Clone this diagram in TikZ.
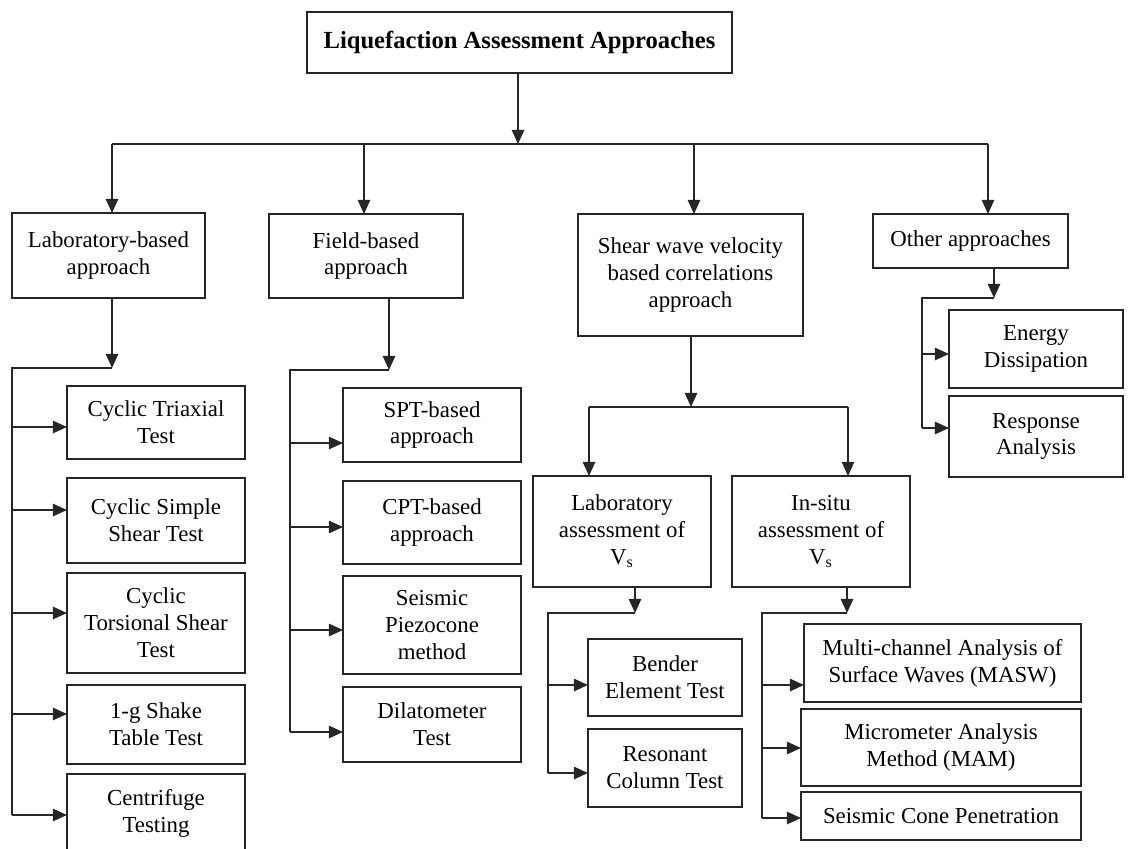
\documentclass[tikz,border=0pt]{standalone}
\usepackage{fontspec}
\setmainfont{Liberation Serif}
\usetikzlibrary{arrows.meta}
\newcommand{\bx}[6]{\node[box, minimum width={(#4-#2)*0.02cm}, minimum height={(#5-#3)*0.02cm}] (#1) at ({(#2+#4)/2},{(#3+#5)/2}) {#6};}
\begin{document}
\begin{tikzpicture}[x=0.02cm,y=-0.02cm,
  box/.style={draw=black!85, line width=1pt, inner sep=0pt, outer sep=0pt, align=center, font=\fontsize{13}{15.3}\selectfont},
  conn/.style={draw=black!85, line width=1pt},
  arr/.style={conn, -{Triangle[length=8pt,width=7pt]}}]
\useasboundingbox (0,0) rectangle (1128,848);
\clip (0,0) rectangle (1128,848);
% boxes
\bx{title}{307}{12}{732}{73}{\raisebox{3pt}{\fontsize{14}{16}\selectfont\bfseries Liquefaction Assessment Approaches}}
\bx{lab}{12}{213}{205}{298}{Laboratory-based\\approach}
\bx{field}{269}{214}{463}{298}{Field-based\\approach}
\bx{shear}{578}{214}{803}{336}{Shear wave velocity\\based correlations\\approach}
\bx{other}{873}{214}{1068}{268}{Other approaches}
\bx{c1}{67}{386}{245}{459}{Cyclic Triaxial\\Test}
\bx{c2}{67}{478}{245}{563}{Cyclic Simple\\Shear Test}
\bx{c3}{67}{573}{245}{673}{Cyclic\\Torsional Shear\\Test}
\bx{c4}{67}{685}{245}{764}{1-g Shake\\Table Test}
\bx{c5}{67}{774}{245}{852}{Centrifuge\\Testing}
\bx{f1}{343}{388}{521}{462}{SPT-based\\approach}
\bx{f2}{343}{481}{521}{564}{CPT-based\\approach}
\bx{f3}{343}{576}{521}{674}{Seismic\\Piezocone\\method}
\bx{f4}{343}{687}{521}{762}{Dilatometer\\Test}
\bx{la}{533}{476}{711}{587}{Laboratory\\assessment of\\V\textsubscript{s}}
\bx{ia}{732}{476}{910}{587}{In-situ\\assessment of\\V\textsubscript{s}}
\bx{b1}{588}{639}{742}{716}{Bender\\Element Test}
\bx{b2}{588}{729}{742}{807}{Resonant\\Column Test}
\bx{m1}{804}{624}{1081}{702}{Multi-channel Analysis of\\Surface Waves (MASW)}
\bx{m2}{801}{709}{1081}{786}{Micrometer Analysis\\Method (MAM)}
\bx{m3}{801}{792}{1081}{840}{Seismic Cone Penetration}
\bx{o1}{949}{310}{1123}{388}{Energy\\Dissipation}
\bx{o2}{949}{396}{1123}{477}{Response\\Analysis}
% top level
\coordinate (h0) at (518,144);
\coordinate (h1) at (112,144);
\coordinate (h2) at (364,144);
\coordinate (h3) at (694,144);
\coordinate (h4) at (988,144);
\draw[arr] (title.south -| h0) -- (h0);
\draw[conn] (h1) -- (h4);
\draw[arr] (h1) -- (h1 |- lab.north);
\draw[arr] (h2) -- (h2 |- field.north);
\draw[arr] (h3) -- (h3 |- shear.north);
\draw[arr] (h4) -- (h4 |- other.north);
% laboratory-based
\coordinate (l1) at (112,368);
\coordinate (l0) at (12,368);
\draw[arr] (l1 |- lab.south) -- (l1);
\draw[conn] (l1) -- (l0) -- (l0 |- 0,815);
\draw[arr] (l0 |- 0,427) -- (c1.west |- 0,427);
\draw[arr] (l0 |- 0,510) -- (c2.west |- 0,510);
\draw[arr] (l0 |- 0,613) -- (c3.west |- 0,613);
\draw[arr] (l0 |- 0,714) -- (c4.west |- 0,714);
\draw[arr] (l0 |- 0,815) -- (c5.west |- 0,815);
% field-based
\coordinate (g1) at (389,370);
\coordinate (g0) at (290,370);
\draw[arr] (g1 |- field.south) -- (g1);
\draw[conn] (g1) -- (g0) -- (g0 |- 0,732);
\draw[arr] (g0 |- 0,443) -- (f1.west |- 0,443);
\draw[arr] (g0 |- 0,527) -- (f2.west |- 0,527);
\draw[arr] (g0 |- 0,630) -- (f3.west |- 0,630);
\draw[arr] (g0 |- 0,732) -- (f4.west |- 0,732);
% shear wave
\coordinate (s1) at (691,407);
\coordinate (s0) at (589,407);
\coordinate (s2) at (848,407);
\draw[arr] (s1 |- shear.south) -- (s1);
\draw[conn] (s0) -- (s2);
\draw[arr] (s0) -- (s0 |- la.north);
\draw[arr] (s2) -- (s2 |- ia.north);
% lab assessment
\coordinate (a1) at (635,613);
\coordinate (a0) at (548,613);
\draw[arr] (a1 |- la.south) -- (a1);
\draw[conn] (a1) -- (a0) -- (a0 |- 0,773);
\draw[arr] (a0 |- 0,685) -- (b1.west |- 0,685);
\draw[arr] (a0 |- 0,773) -- (b2.west |- 0,773);
% in-situ
\coordinate (i1) at (847,613);
\coordinate (i0) at (762,613);
\draw[arr] (i1 |- ia.south) -- (i1);
\draw[conn] (i1) -- (i0) -- (i0 |- 0,818);
\draw[arr] (i0 |- 0,685) -- (m1.west |- 0,685);
\draw[arr] (i0 |- 0,748) -- (m2.west |- 0,748);
\draw[arr] (i0 |- 0,818) -- (m3.west |- 0,818);
% other
\coordinate (p1) at (994,298);
\coordinate (p0) at (922,298);
\draw[arr] (p1 |- other.south) -- (p1);
\draw[conn] (p1) -- (p0) -- (p0 |- 0,428);
\draw[arr] (p0 |- 0,354) -- (o1.west |- 0,354);
\draw[arr] (p0 |- 0,428) -- (o2.west |- 0,428);
\end{tikzpicture}
\end{document}
